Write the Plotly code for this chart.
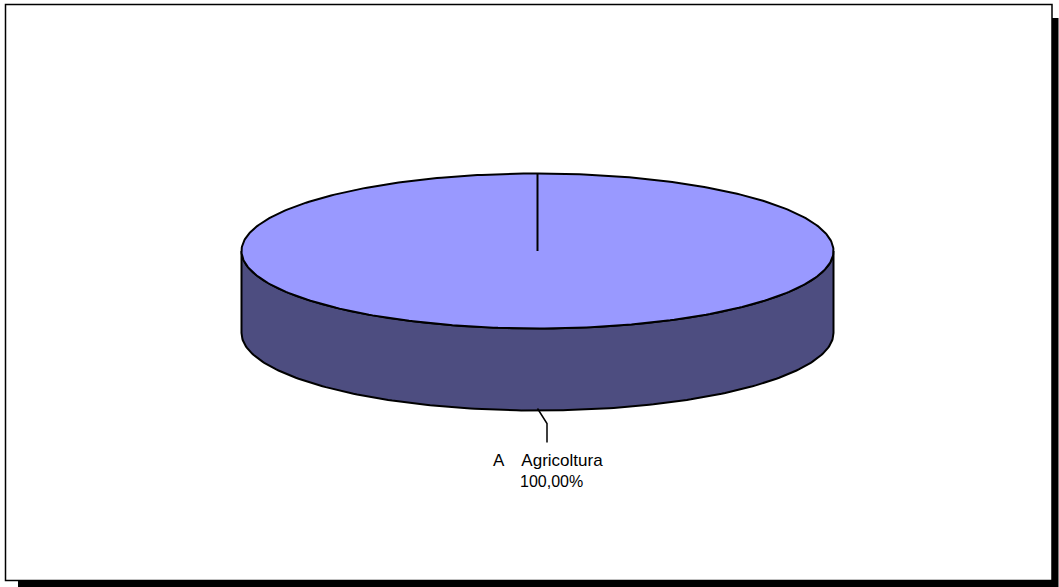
import numpy as np
import plotly.graph_objects as go

# ---- data ----
categories = ["A   Agricoltura"]
values = [100.0]
slice_colors = ["#9999FF"]
side_colors = ["#4D4D80"]

# ---- geometry / style (pixel space) ----
W, H = 1059, 587
CX, CY = 537.5, 251.0
RX, RY = 296.0, 77.5
DEPTH = 82.0
START_DEG = 90.0

total = float(sum(values))
fracs = [v / total for v in values]

fig = go.Figure()

def pt(deg, dz=0.0):
    r = np.deg2rad(deg)
    return CX + RX * np.cos(r), CY - RY * np.sin(r) + dz

# slice angular ranges (clockwise from top)
bounds = []
a = START_DEG
for f in fracs:
    bounds.append((a, a - 360.0 * f))
    a = a - 360.0 * f

# side walls (front half only)
for (a0, a1), col in zip(bounds, side_colors):
    lo, hi = min(a0, a1), max(a0, a1)
    segs = []
    for shift in (-360, 0, 360):
        s = max(lo + shift, -180.0)
        e = min(hi + shift, 0.0)
        if e > s:
            segs.append((s, e))
    for s, e in segs:
        t = np.linspace(s, e, 200)
        x_top, y_top = pt(t)
        x_bot, y_bot = pt(t[::-1], DEPTH)
        xs = np.concatenate([x_top, x_bot, [x_top[0]]])
        ys = np.concatenate([y_top, y_bot, [y_top[0]]])
        fig.add_trace(go.Scatter(x=xs, y=ys, mode="lines", fill="toself",
                                 fillcolor=col, line=dict(color="black", width=2),
                                 hoverinfo="skip", showlegend=False))

# top faces
for (a0, a1), col in zip(bounds, slice_colors):
    t = np.linspace(a0, a1, 400)
    xe, ye = pt(t)
    if abs(a0 - a1) < 359.999:
        xs = np.concatenate([[CX], xe, [CX]])
        ys = np.concatenate([[CY], ye, [CY]])
    else:
        xs, ys = xe, ye
    fig.add_trace(go.Scatter(x=xs, y=ys, mode="lines", fill="toself",
                             fillcolor=col, line=dict(color="black", width=2),
                             hoverinfo="skip", showlegend=False))

# radial slice boundaries
for (a0, a1) in bounds:
    bx, by = pt(a0)
    fig.add_trace(go.Scatter(x=[CX, bx], y=[CY, by], mode="lines",
                             line=dict(color="black", width=2),
                             hoverinfo="skip", showlegend=False))

# labels with leader lines
for (a0, a1), cat, f in zip(bounds, categories, fracs):
    mid = (a0 + a1) / 2.0
    ax_, ay_ = pt(mid, DEPTH)
    ex, ey = ax_ + 9.5, ay_ + 13
    lx, ly = ex, ay_ + 32
    fig.add_trace(go.Scatter(x=[ax_, ex, lx], y=[ay_ - 2, ey, ly], mode="lines",
                             line=dict(color="black", width=1.5),
                             hoverinfo="skip", showlegend=False))
    pct = f"{f*100:.2f}".replace(".", ",") + "%"
    fig.add_annotation(x=lx + 1, y=ly + 18, xref="x", yref="y",
                       text=cat.replace(" ", "\u2004"), showarrow=False,
                       font=dict(family="Liberation Sans, Arial", size=17, color="black"))
    fig.add_annotation(x=lx + 4, y=ly + 39, xref="x", yref="y",
                       text=pct, showarrow=False,
                       font=dict(family="Liberation Sans, Arial", size=16, color="black"))

# chart frame with shadow
fig.add_shape(type="rect", x0=18, y0=18, x1=1058.5, y1=587, xref="x", yref="y",
              fillcolor="black", line=dict(width=0), layer="below")
fig.add_shape(type="rect", x0=5.5, y0=4.5, x1=1052, y1=580.5, xref="x", yref="y",
              fillcolor="white", line=dict(color="black", width=1.5), layer="below")

fig.update_layout(
    width=W, height=H,
    margin=dict(l=0, r=0, t=0, b=0),
    paper_bgcolor="white", plot_bgcolor="white",
    xaxis=dict(range=[0, W], visible=False, fixedrange=True),
    yaxis=dict(range=[H, 0], visible=False, fixedrange=True),
    showlegend=False,
)

fig.write_html("out.html", config={"displayModeBar": False},
               post_script="document.body.style.margin='0px';document.body.style.overflow='hidden';")
